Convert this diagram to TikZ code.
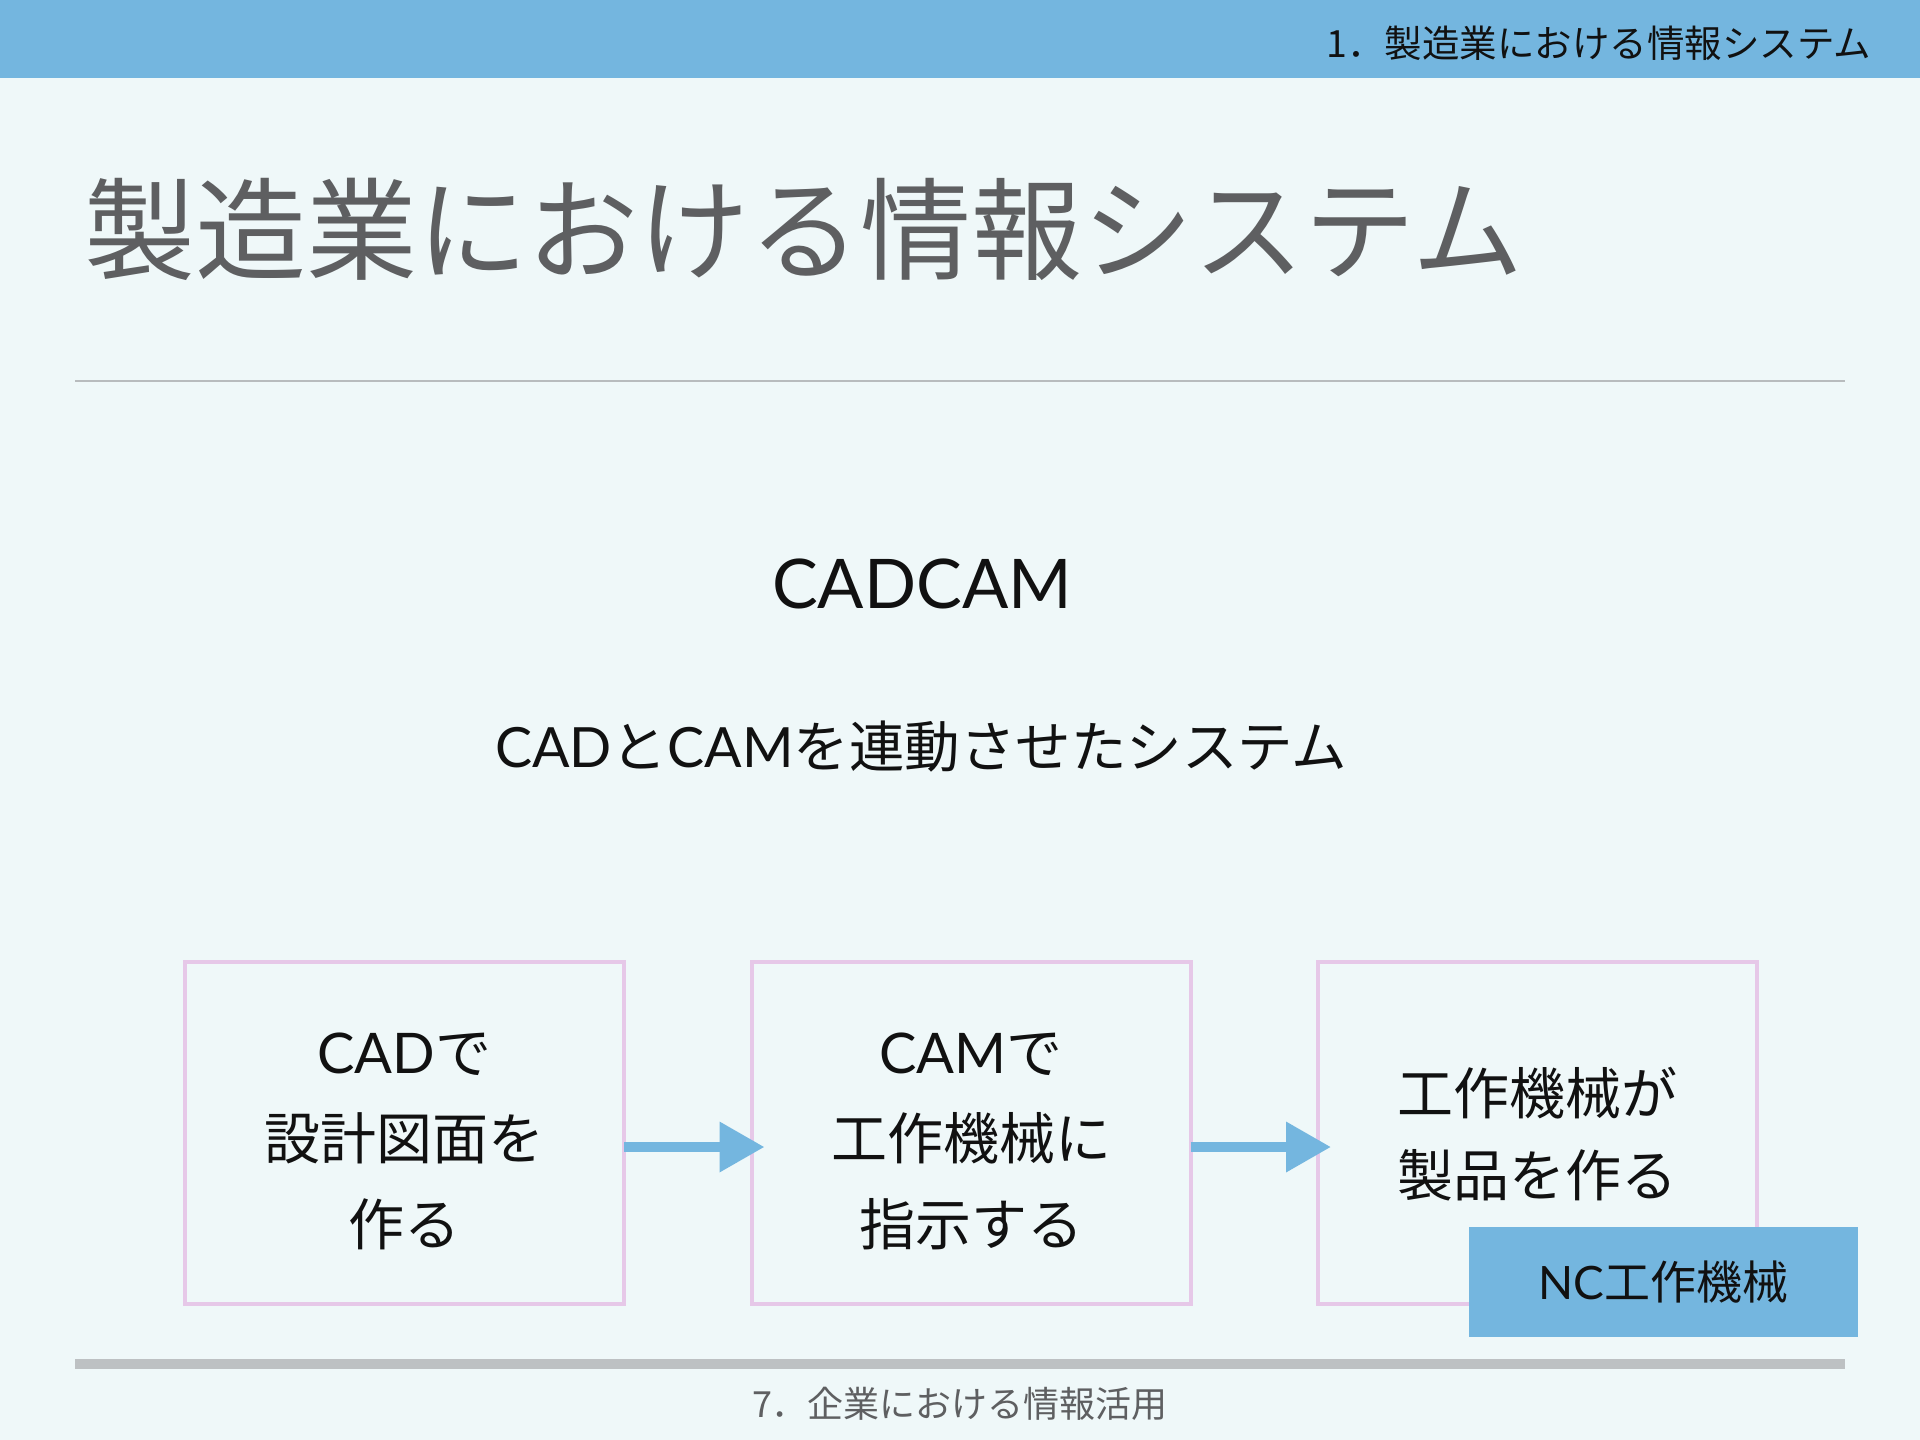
\documentclass[tikz,border=0pt]{standalone}
\usepackage{fontspec}
\setmainfont{Lato}
\newfontfamily\jp{Noto Sans CJK JP}
\usetikzlibrary{arrows.meta}
\definecolor{bgc}{HTML}{EFF8F9}
\definecolor{barblue}{HTML}{74B6DF}
\definecolor{titlegray}{HTML}{5E5F61}
\definecolor{rulegray}{HTML}{B8BCBE}
\definecolor{bargray}{HTML}{BDC1C3}
\definecolor{pinkb}{HTML}{E6C8E8}
\definecolor{ink}{HTML}{111111}
\tikzset{
  stepbox/.style={draw=pinkb, line width=4pt, minimum width=439pt, minimum height=342pt},
  boxtext/.style={align=center, text=ink, font=\jp\fontsize{56}{86}\selectfont},
  flowarrow/.style={draw=barblue, line width=10pt, -{Triangle[length=45pt,width=48pt]}},
}
\begin{document}
\begin{tikzpicture}[x=1pt,y=-1pt, every node/.style={inner sep=0pt,outer sep=0pt}]
\fill[bgc] (0,0) rectangle (1920,1440);
\useasboundingbox (0,0) rectangle (1920,1440);
\fill[barblue] (0,0) rectangle (1920,78);
\node[anchor=east, text=ink, font=\jp\fontsize{37.5}{44}\selectfont] (hdr) at (1871,43) {1．製造業における情報システム};
\node[anchor=west, text=titlegray, font=\jp\fontsize{111}{130}\selectfont] (title) at (84,229) {製造業における情報システム};
\draw[rulegray, line width=1.5pt] (75,381) -- (1845,381);
\node[text=ink, font=\rmfamily\fontsize{68.5}{80}\selectfont] (cadcam) at (922,584) {CADCAM};
\node[text=ink, font=\rmfamily\fontsize{55.5}{66}\selectfont] (sub) at (921,747) {CAD{\jp と}CAM{\jp を連動させたシステム}};
\node[stepbox] (b1) at (404.5,1133) {};
\node[stepbox] (b2) at (971,1133) {};
\node[stepbox] (b3) at (1537.5,1133) {};
\node[boxtext] (t1) at (404.5,1141) {{\rmfamily CAD}で\\設計図面を\\作る};
\node[boxtext] (t2) at (971,1141) {{\rmfamily CAM}で\\工作機械に\\指示する};
\node[boxtext, font=\jp\fontsize{56}{82}\selectfont] (t3) at (1537.5,1134) {工作機械が\\製品を作る};
\draw[flowarrow] ([yshift=-14pt]b1.east) -- ([yshift=-14pt,xshift=13pt]b2.west);
\draw[flowarrow] ([yshift=-14pt]b2.east) -- ([yshift=-14pt,xshift=13pt]b3.west);
\node[fill=barblue, minimum width=389pt, minimum height=110pt, text=ink, font=\rmfamily\fontsize{46}{54}\selectfont] (nc) at (1663.5,1282) {NC{\jp 工作機械}};
\fill[bargray] (75,1359) rectangle (1845,1369);
\node[text=titlegray, font=\jp\fontsize{36}{44}\selectfont] (ftr) at (960,1404) {7．企業における情報活用};
\end{tikzpicture}
\end{document}
